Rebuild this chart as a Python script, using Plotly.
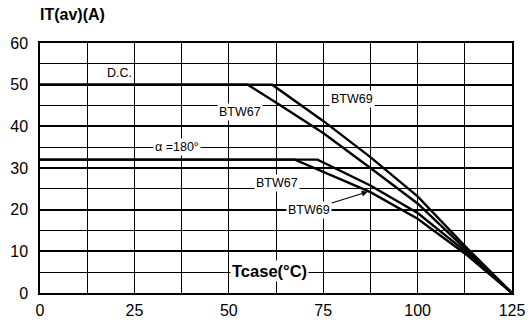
import plotly.graph_objects as go

# Data
dc69_x = [0, 61.5, 75, 87.5, 100, 112.5, 125]
dc69_y = [50, 50, 41.3, 32.6, 23.2, 11.3, 0]
dc67_x = [0, 55, 63, 75, 87.5, 95, 100, 112.5, 125]
dc67_y = [50, 50, 45.4, 38.4, 30.0, 25.0, 21.5, 10.7, 0]
a69_x = [0, 73.5, 87.5, 100, 112.5, 125]
a69_y = [32, 32, 25.8, 19.2, 10.1, 0]
a67_x = [0, 67.5, 87.5, 100, 112.5, 125]
a67_y = [32, 32, 24.2, 17.8, 9.5, 0]

x_ticks = [0, 25, 50, 75, 100, 125]
y_ticks = [0, 10, 20, 30, 40, 50, 60]

FONT = "Liberation Sans, Arial, sans-serif"

fig = go.Figure()
for xs, ys in [(dc69_x, dc69_y), (dc67_x, dc67_y), (a69_x, a69_y), (a67_x, a67_y)]:
    fig.add_trace(go.Scatter(x=xs, y=ys, mode="lines",
                             line=dict(color="black", width=2.4),
                             showlegend=False, hoverinfo="skip"))

ann_font = dict(family=FONT, size=12.5, color="black")
annotations = [
    dict(text="<b>IT(av)(A)</b>", xref="paper", yref="paper", x=0, y=1,
         xanchor="left", yanchor="bottom", yshift=18, xshift=-2, showarrow=False,
         font=dict(family=FONT, size=16, color="black")),
    dict(text="D.C.", x=21, y=52.8, showarrow=False, font=ann_font, bgcolor="white"),
    dict(text="BTW69", x=82.5, y=46.6, showarrow=False, font=ann_font, bgcolor="white"),
    dict(text="BTW67", x=53, y=43.4, showarrow=False, font=ann_font, bgcolor="white"),
    dict(text="α =180°", x=36.2, y=35, showarrow=False, font=ann_font, bgcolor="white"),
    dict(text="BTW67", x=62.7, y=26.4, showarrow=False, font=ann_font, bgcolor="white"),
    dict(text="BTW69", x=86.8, y=24.3, ax=71.3, ay=19.9, axref="x", ayref="y",
         showarrow=True, arrowhead=2, arrowsize=1, arrowwidth=1.2, arrowcolor="black",
         font=ann_font, bgcolor="white"),
    dict(text="<b>Tcase(°C)</b>", x=60.8, y=5.4, showarrow=False,
         font=dict(family=FONT, size=16.5, color="black"), bgcolor="white"),
]

fig.update_layout(
    width=530, height=322,
    margin=dict(l=40, r=18, t=43, b=29, autoexpand=False),
    paper_bgcolor="white", plot_bgcolor="white",
    font=dict(family=FONT, size=16, color="black"),
    annotations=annotations,
    xaxis=dict(range=[0, 125], tickvals=x_ticks, ticktext=[str(v) for v in x_ticks],
               showgrid=True, gridcolor="black", gridwidth=1.2,
               minor=dict(dtick=12.5, tick0=0, showgrid=True, gridcolor="black", gridwidth=1.2),
               showline=True, linecolor="black", linewidth=1.5, mirror=True,
               ticks="", zeroline=False, ticklabelstandoff=2, automargin=False),
    yaxis=dict(range=[0, 60], tickvals=y_ticks, ticktext=[str(v) for v in y_ticks],
               showgrid=True, gridcolor="black", gridwidth=1.6,
               minor=dict(dtick=5, tick0=0, showgrid=True, gridcolor="black", gridwidth=1),
               showline=True, linecolor="black", linewidth=1.5, mirror=True,
               ticks="", zeroline=False, ticklabelstandoff=7, automargin=False),
)

fig.write_html("out.html",
               config={"displayModeBar": False},
               post_script="document.body.style.margin='0px';document.body.style.overflow='hidden';")
